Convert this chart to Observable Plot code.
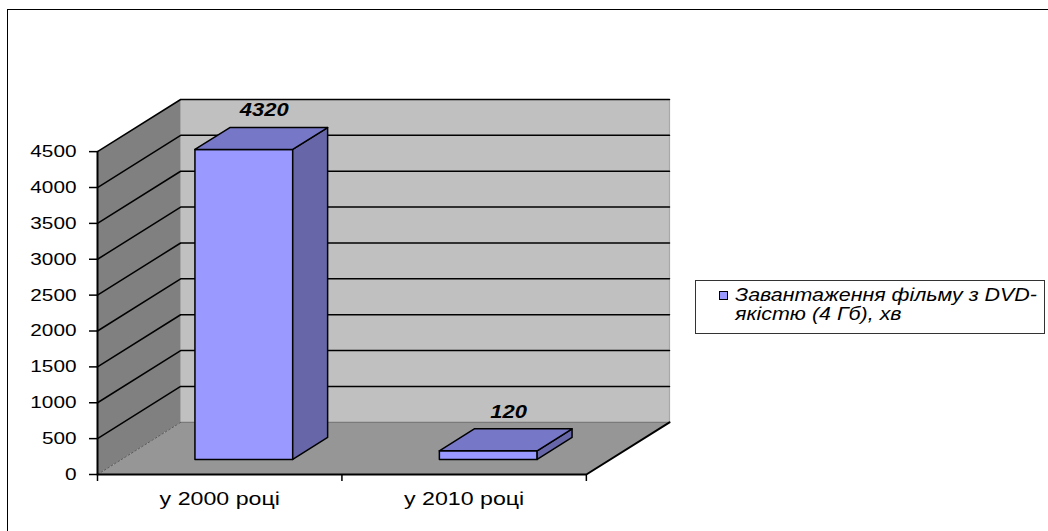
<!DOCTYPE html>
<html><head><meta charset="utf-8">
<script src="https://cdn.jsdelivr.net/npm/d3@7"></script>
<script src="https://cdn.jsdelivr.net/npm/@observablehq/plot@0.6"></script>
<style>
body{margin:0;background:#fff;font-family:"Liberation Sans",Arial,sans-serif;}
#wrap{position:relative;width:1048px;height:531px;overflow:hidden;}
#chart{position:absolute;left:0;top:0;}
#frame{position:absolute;left:7px;top:9px;width:1100px;height:600px;border-left:1px solid #000;border-top:1px solid #000;pointer-events:none;}
#legend{position:absolute;left:695px;top:280px;width:350px;height:54px;border:1px solid #333;box-sizing:border-box;background:#fff;}
#legend .sw{position:absolute;left:23px;top:10px;width:7px;height:7px;background:#9999ff;border:1px solid #000;}
#legend .lt{position:absolute;left:39px;top:5px;font-style:italic;font-size:18px;line-height:19px;white-space:nowrap;transform:scaleX(1.19);transform-origin:0 0;color:#000;}
</style></head>
<body><div id="wrap"><div id="chart"></div><div id="frame"></div><div id="legend"><span class="sw"></span><div class="lt"></div></div></div>
<script>
const categories = ["у 2000 році", "у 2010 році"];
const values = [4320, 120];
const yTicks = [0, 500, 1000, 1500, 2000, 2500, 3000, 3500, 4000, 4500];
const seriesName = "Завантаження фільму з DVD-якістю (4 Гб), хв";
const legendLines = ["Завантаження фільму з DVD-", "якістю (4 Гб), хв"];

const yMax = yTicks[yTicks.length - 1];
const nCat = categories.length;
// oblique projection of depth (3D look)
const DX = 83 / 244, DY = 52 * yMax / 322;
const P = (xu, v, d) => ({x: xu + d * DX, y: v + d * DY});
const poly = (pts, id) => pts.concat([pts[0]]).map(p => ({...p, id}));

const backWall = poly([P(0,0,1), P(nCat,0,1), P(nCat,yMax,1), P(0,yMax,1)], "back");
const sideWall = poly([P(0,0,0), P(0,0,1), P(0,yMax,1), P(0,yMax,0)], "side");
const floor = poly([P(0,0,0), P(nCat,0,0), P(nCat,0,1), P(0,0,1)], "floor");
const grid = yTicks.filter(t => t > 0).flatMap(t => [P(0,t,0), P(0,t,1), P(nCat,t,1)].map(p => ({...p, id: t})));

const d0 = 0.29, d1 = 0.71, half = 0.2;
const fronts = [], sides = [], tops = [];
values.forEach((v, i) => {
  const x0 = i + 0.5 - half, x1 = i + 0.5 + half;
  fronts.push(...poly([P(x0,0,d0), P(x1,0,d0), P(x1,v,d0), P(x0,v,d0)], i));
  sides.push(...poly([P(x1,0,d0), P(x1,0,d1), P(x1,v,d1), P(x1,v,d0)], i));
  tops.push(...poly([P(x0,v,d0), P(x1,v,d0), P(x1,v,d1), P(x0,v,d1)], i));
});

const font = "Liberation Sans, Arial, sans-serif";
const L = (data, opts) => Plot.line(data, {x: "x", y: "y", z: "id", curve: "linear", ...opts});

const svg = Plot.plot({
  width: 1048, height: 531,
  marginLeft: 97, marginRight: 379, marginTop: 99, marginBottom: 57,
  x: {type: "linear", domain: [0, nCat + DX]},
  y: {domain: [0, yMax + DY]},
  style: {background: "none", fontFamily: font, color: "#000", overflow: "visible"},
  marks: [
    L(backWall, {fill: "#c0c0c0", stroke: "none"}),
    L(sideWall, {fill: "#808080", stroke: "none"}),
    L(floor, {fill: "#969696", stroke: "none"}),
    L([P(0,0,1), P(nCat,0,1)].map(p => ({...p, id: 0})), {stroke: "#7a7a7a", strokeWidth: 1.2}),
    L([P(nCat,0,1), P(nCat,yMax,1)].map(p => ({...p, id: 0})), {stroke: "#a8a8a8", strokeWidth: 1.2}),
    L([P(0,0,0), P(0,0,1)].map(p => ({...p, id: 0})), {stroke: "#5a5a5a", strokeWidth: 1, strokeDasharray: "2,2"}),
    L(grid, {stroke: "#000", strokeWidth: 1.5}),
    L([P(0,0,0), P(nCat,0,0), P(nCat,0,1)].map(p => ({...p, id: 0})), {stroke: "#000", strokeWidth: 2}),
    L([P(0,0,0), P(0,yMax,0)].map(p => ({...p, id: 0})), {stroke: "#000", strokeWidth: 2}),
    L(fronts, {fill: "#9999ff", stroke: "#000", strokeWidth: 1.5}),
    L(sides, {fill: "#6666a8", stroke: "#000", strokeWidth: 1.5}),
    L(tops, {fill: "#7777c8", stroke: "#000", strokeWidth: 1.5}),
    Plot.text(values, {
      x: (d, i) => P(i + 0.5, d, 0.5).x, y: (d, i) => P(i + 0.5, d, 0.5).y,
      text: d => String(d), dy: -28, dx: 3,
      fontSize: 18, fontWeight: "bold", fontStyle: "italic", fill: "#000"
    }),
    Plot.axisY({ticks: yTicks, tickSize: 8, tickPadding: 13, fontSize: 17, label: null, tickFormat: d => String(d), strokeWidth: 1.5}),
    Plot.axisX({ticks: d3.range(nCat + 1), tickSize: 7, tickFormat: () => "", label: null, strokeWidth: 1.5}),
    Plot.axisX({ticks: categories.map((c, i) => i + 0.5), tickSize: 0, tickPadding: 17, fontSize: 19, label: null,
      tickFormat: d => categories[Math.floor(d)]})
  ]
});
document.getElementById("chart").append(svg);
svg.querySelectorAll("text").forEach(t => {
  const len = t.getComputedTextLength();
  if (len > 0) { t.setAttribute("textLength", (len * 1.22).toFixed(1)); t.setAttribute("lengthAdjust", "spacingAndGlyphs"); }
});
document.querySelector("#legend .lt").innerHTML = legendLines.join("<br>");
document.querySelector("#legend").setAttribute("title", seriesName);
</script>
</body></html>
